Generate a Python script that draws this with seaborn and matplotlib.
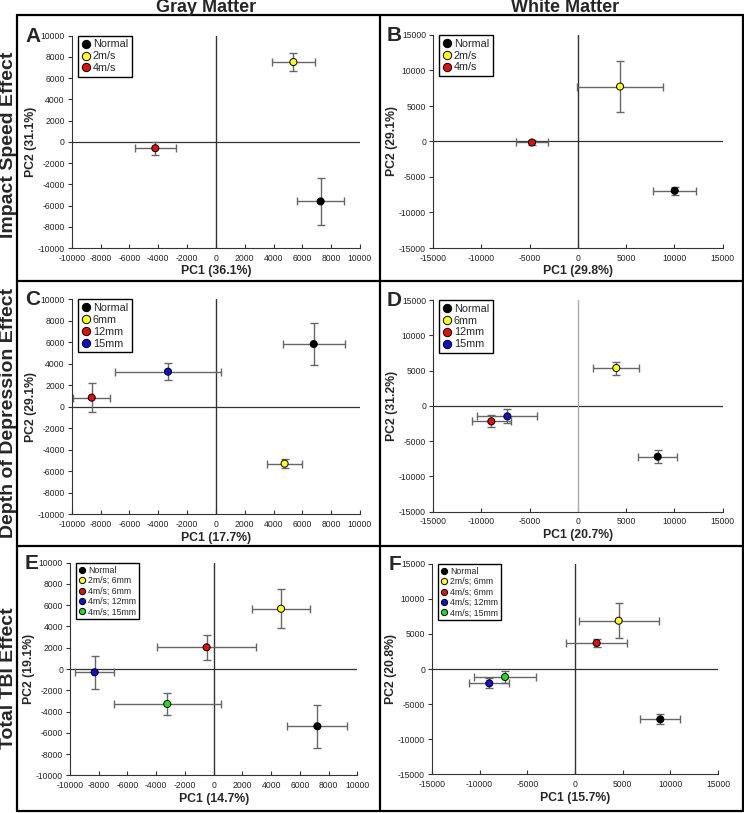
import matplotlib
matplotlib.use("Agg")
import matplotlib.pyplot as plt
from matplotlib.lines import Line2D
import seaborn as sns
import pandas as pd
import numpy as np

# group names
speed_groups = ["Normal", "2m/s", "4m/s"]
depth_groups = ["Normal", "6mm", "12mm", "15mm"]
tbi_groups = ["Normal", "2m/s; 6mm", "4m/s; 6mm", "4m/s; 12mm", "4m/s; 15mm"]

# A - gray matter, impact speed
gray_speed_pc1 = [7270, 5380, -4200]
gray_speed_pc1_err = [1650, 1500, 1430]
gray_speed_pc2 = [-5610, 7520, -600]
gray_speed_pc2_err = [2250, 860, 600]

# B - white matter, impact speed
white_speed_pc1 = [10030, 4370, -4750]
white_speed_pc1_err = [2250, 4420, 1700]
white_speed_pc2 = [-6940, 7740, -140]
white_speed_pc2_err = [550, 3600, 400]

# C - gray matter, depth
gray_depth_pc1 = [6790, 4770, -8610, -3320]
gray_depth_pc1_err = [2150, 1230, 1300, 3700]
gray_depth_pc2 = [5840, -5290, 850, 3270]
gray_depth_pc2_err = [1920, 400, 1350, 810]

# D - white matter, depth
white_depth_pc1 = [8270, 3980, -8960, -7300]
white_depth_pc1_err = [2000, 2400, 2030, 3120]
white_depth_pc2 = [-7210, 5360, -2200, -1490]
white_depth_pc2_err = [900, 920, 850, 1000]

# E - gray matter, total TBI
gray_tbi_pc1 = [7220, 4690, -490, -8280, -3230]
gray_tbi_pc1_err = [2090, 2000, 3450, 1350, 3720]
gray_tbi_pc2 = [-5390, 5670, 2040, -310, -3290]
gray_tbi_pc2_err = [2050, 1840, 1160, 1570, 1020]

# F - white matter, total TBI
white_tbi_pc1 = [8950, 4580, 2270, -8990, -7340]
white_tbi_pc1_err = [2100, 4180, 3200, 2100, 3260]
white_tbi_pc2 = [-7170, 6880, 3700, -2040, -1140]
white_tbi_pc2_err = [710, 2500, 620, 720, 790]

pc_labels = [("PC1 (36.1%)", "PC2 (31.1%)"), ("PC1 (29.8%)", "PC2 (29.1%)"),
             ("PC1 (17.7%)", "PC2 (29.1%)"), ("PC1 (20.7%)", "PC2 (31.2%)"),
             ("PC1 (14.7%)", "PC2 (19.1%)"), ("PC1 (15.7%)", "PC2 (20.8%)")]

group_colors = {"Normal": "#000000", "2m/s": "#ffff22", "4m/s": "#dd1111",
                "6mm": "#ffff22", "12mm": "#dd1111", "15mm": "#1111cc",
                "2m/s; 6mm": "#ffff22", "4m/s; 6mm": "#dd1111",
                "4m/s; 12mm": "#1111cc", "4m/s; 15mm": "#22dd22"}

sns.set_theme(style="white")
plt.rcParams['font.family'] = ['Liberation Sans', 'DejaVu Sans']
plt.rcParams['axes.unicode_minus'] = False

W, H = 744, 813
fig = plt.figure(figsize=(W / 100, H / 100), dpi=100)


def px_axes(left, top, right, bottom):
    return fig.add_axes([left / W, 1 - bottom / H, (right - left) / W, (bottom - top) / H])


def draw_panel(ax, groups, pc1, pc1_err, pc2, pc2_err, lim, step, labels, letter,
               leg_size, leg_marker, leg_space, vline_color="#333333"):
    df = pd.DataFrame({"group": groups, "pc1": pc1, "pc2": pc2})
    ax.axhline(0, color="#333333", lw=0.9, zorder=1)
    ax.axvline(0, color=vline_color, lw=1.0, zorder=1)
    ax.errorbar(pc1, pc2, xerr=pc1_err, yerr=pc2_err, fmt="none", ecolor="#666666",
                elinewidth=1, capsize=3, capthick=1, zorder=2)
    sns.scatterplot(data=df, x="pc1", y="pc2", hue="group", hue_order=groups,
                    palette=group_colors, s=26, edgecolor="black", linewidth=0.7,
                    ax=ax, zorder=3)
    handles = [Line2D([], [], marker="o", ls="none", markersize=leg_marker,
                      markerfacecolor=group_colors[g], markeredgecolor="black",
                      markeredgewidth=0.7) for g in groups]
    leg = ax.legend(handles, groups, loc="upper left", bbox_to_anchor=(0.022, 1.0),
                    fontsize=leg_size, frameon=True, fancybox=False, framealpha=1,
                    edgecolor="black", handlelength=0.7, handletextpad=0.3,
                    labelspacing=leg_space, borderpad=0.35, borderaxespad=0)
    leg.get_frame().set_linewidth(1.0)

    ticks = np.arange(-lim, lim + 1, step)
    ax.set_xlim(-lim, lim)
    ax.set_ylim(-lim, lim)
    ax.set_xticks(ticks)
    ax.set_yticks(ticks)
    ax.tick_params(axis="x", direction="in", length=3, width=0.8, labelsize=6.2,
                   labelcolor="#222222", color="#333333", pad=4, bottom=True)
    ax.tick_params(axis="y", direction="out", length=3, width=0.8, labelsize=6.2,
                   labelcolor="#222222", color="#333333", pad=2, left=True)
    sns.despine(ax=ax)
    for side in ["left", "bottom"]:
        ax.spines[side].set_color("#333333")
        ax.spines[side].set_linewidth(0.8)
    ax.set_xlabel(labels[0], fontsize=8.8, fontweight="bold", labelpad=2)
    ax.set_ylabel(labels[1], fontsize=8.8, fontweight="bold", labelpad=0.5)

    pos = ax.get_position()
    fig.text(pos.x0 - 31 / W, pos.y1 + 9 / H, letter, fontsize=15, fontweight="bold",
             ha="right", va="top")


panels = [
    ((71.7, 35.7, 360, 248), speed_groups, gray_speed_pc1, gray_speed_pc1_err,
     gray_speed_pc2, gray_speed_pc2_err, 10000, 2000, "A", 7.8, 6, 0.17, "#333333"),
    ((433, 35, 722.7, 248), speed_groups, white_speed_pc1, white_speed_pc1_err,
     white_speed_pc2, white_speed_pc2_err, 15000, 5000, "B", 7.8, 6, 0.17, "#333333"),
    ((71.7, 299.3, 360, 514.3), depth_groups, gray_depth_pc1, gray_depth_pc1_err,
     gray_depth_pc2, gray_depth_pc2_err, 10000, 2000, "C", 7.8, 6, 0.17, "#333333"),
    ((433, 300, 722.7, 511.7), depth_groups, white_depth_pc1, white_depth_pc1_err,
     white_depth_pc2, white_depth_pc2_err, 15000, 5000, "D", 7.8, 6, 0.17, "#aaaaaa"),
    ((70, 562.7, 357.3, 775.3), tbi_groups, gray_tbi_pc1, gray_tbi_pc1_err,
     gray_tbi_pc2, gray_tbi_pc2_err, 10000, 2000, "E", 6.3, 4.5, 0.16, "#333333"),
    ((432, 563.7, 718, 774.3), tbi_groups, white_tbi_pc1, white_tbi_pc1_err,
     white_tbi_pc2, white_tbi_pc2_err, 15000, 5000, "F", 6.3, 4.5, 0.16, "#333333"),
]

for i, (box, groups, p1, p1e, p2, p2e, lim, step, letter, ls, lm, lsp, vc) in enumerate(panels):
    ax = px_axes(*box)
    draw_panel(ax, groups, p1, p1e, p2, p2e, lim, step, pc_labels[i], letter, ls, lm, lsp, vc)

# outer frame and grid dividers
frame_kw = dict(color="black", lw=1.6, transform=fig.transFigure)
left, right, top, bottom = 17, 743, 15, 811
for xs, ys in [((left, right), (top, top)), ((left, right), (bottom, bottom)),
               ((left, left), (top, bottom)), ((right, right), (top, bottom)),
               ((380, 380), (top, bottom)), ((left, right), (281, 281)),
               ((left, right), (546, 546))]:
    fig.add_artist(Line2D([x / W for x in xs], [1 - y / H for y in ys], **frame_kw))

# column and row titles
fig.text(206 / W, 1 - 7.5 / H, "Gray Matter", fontsize=13, fontweight="bold", ha="center", va="center")
fig.text(565 / W, 1 - 7.5 / H, "White Matter", fontsize=13, fontweight="bold", ha="center", va="center")
for label, yc in [("Impact Speed Effect", 145), ("Depth of Depression Effect", 413),
                  ("Total TBI Effect", 678)]:
    fig.text(9 / W, 1 - yc / H, label, fontsize=14, fontweight="bold", rotation=90,
             ha="center", va="center")

fig.savefig("out.png", dpi=100)
